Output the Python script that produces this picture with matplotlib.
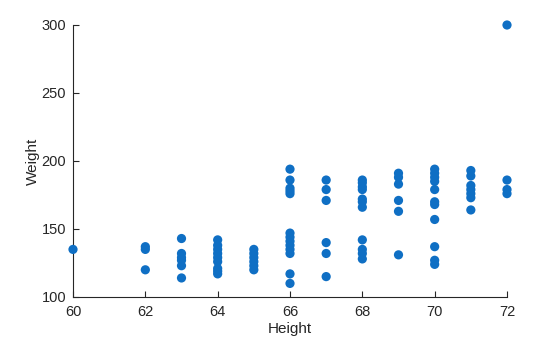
import matplotlib
matplotlib.use("Agg")
import matplotlib.pyplot as plt

# Height (inches) and weight (lbs) observations
height = (
    [60]
    + [62] * 3
    + [63] * 6
    + [64] * 9
    + [65] * 6
    + [66] * 13
    + [67] * 6
    + [68] * 11
    + [69] * 6
    + [70] * 11
    + [71] * 7
    + [72] * 4
)
weight = (
    [135]
    + [137, 135, 120]
    + [143, 132, 129, 127, 123, 114]
    + [142, 138, 135, 132, 129, 126, 121, 119, 117]
    + [135, 132, 129, 126, 123, 120]
    + [194, 186, 180, 178, 176, 147, 144, 141, 138, 135, 132, 117, 110]
    + [186, 179, 171, 140, 132, 115]
    + [186, 184, 181, 179, 172, 170, 166, 142, 135, 132, 128]
    + [191, 188, 183, 171, 163, 131]
    + [194, 191, 188, 185, 179, 170, 168, 157, 137, 127, 124]
    + [193, 189, 182, 179, 176, 173, 164]
    + [300, 186, 179, 176]
)
x_ticks = [60, 62, 64, 66, 68, 70, 72]
y_ticks = [100, 150, 200, 250, 300]

plt.rcParams["font.family"] = ["Liberation Sans", "DejaVu Sans"]
ink = "#262626"

fig = plt.figure(figsize=(5.6, 3.37), dpi=100)
ax = fig.add_axes([73 / 560, 1 - 297 / 337, (507 - 73) / 560, (297 - 25) / 337])
ax.scatter(height, weight, s=44, color="#0f6fc4", edgecolors="none", zorder=3,
           clip_on=False)

ax.set_xlim(60, 72)
ax.set_ylim(100, 300)
ax.set_xticks(x_ticks)
ax.set_yticks(y_ticks)
ax.tick_params(direction="in", length=4, width=0.8, colors=ink, labelsize=10.5)
ax.tick_params(axis="x", pad=6)
ax.tick_params(axis="y", pad=5)
for side in ("top", "right"):
    ax.spines[side].set_visible(False)
for side in ("left", "bottom"):
    ax.spines[side].set_color(ink)
    ax.spines[side].set_linewidth(0.8)

ax.set_xlabel("Height", fontsize=11, color=ink, labelpad=2)
ax.set_ylabel("Weight", fontsize=11, color=ink, labelpad=1)

fig.savefig("out.png", dpi=100)
